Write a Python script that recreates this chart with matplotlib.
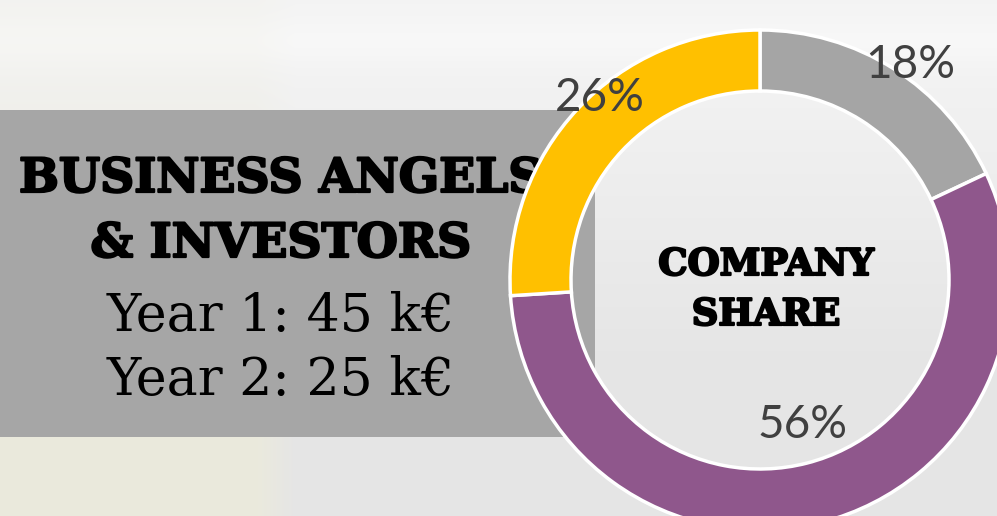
import numpy as np
import matplotlib
matplotlib.use("Agg")
import matplotlib.pyplot as plt
from matplotlib.patches import FancyBboxPatch
import matplotlib.patheffects as pe

# ---- data ----
slice_labels = ["18%", "56%", "26%"]
slice_values = [18, 56, 26]
slice_colors = ["#a5a5a5", "#8f578c", "#ffc000"]
box_title = ["BUSINESS ANGELS", "& INVESTORS"]
box_lines = ["Year 1: 45 k€", "Year 2: 25 k€"]
center_title = ["COMPANY", "SHARE"]

W, H = 997, 516
fig = plt.figure(figsize=(W / 100, H / 100), dpi=100)
ax = fig.add_axes([0, 0, 1, 1])

# ---- blurred photo-like background ----
yy, xx = np.mgrid[0:H, 0:W]
t = yy / H
base = 0.955 - 0.055 * np.clip((t - 0.1) / 0.6, 0, 1)
img = np.dstack([base, base, base])
band = np.exp(-((yy - 40) / 25.0) ** 2) * 0.015
img += band[..., None]
mask = np.clip((295 - xx) / 40.0, 0, 1) * np.clip((yy - 10) / 300.0, 0.2, 1)
tint = np.array([0.93, 0.925, 0.85])
img = img * (1 - 0.7 * mask[..., None]) + tint * 0.7 * mask[..., None]
img = np.clip(img, 0, 1)
ax.imshow(img, extent=[0, W, 0, H], origin="upper", zorder=0, aspect="auto")

# ---- grey rounded box ----
box = FancyBboxPatch((-40, H - 437), 635, 327,
                     boxstyle="round,pad=0,rounding_size=18",
                     fc="#a6a6a6", ec="none", zorder=1)
ax.add_patch(box)

heavy = [pe.withStroke(linewidth=1.6, foreground="black")]
tx = 281
ax.text(tx, H - 192, box_title[0], fontsize=34, fontweight="bold",
        family="DejaVu Serif", ha="center", va="baseline", zorder=2,
        path_effects=heavy)
ax.text(tx, H - 257, box_title[1], fontsize=34, fontweight="bold",
        family="DejaVu Serif", ha="center", va="baseline", zorder=2,
        path_effects=heavy)
ax.text(tx, H - 331, box_lines[0], fontsize=37.5,
        family="DejaVu Serif", ha="center", va="baseline", zorder=2)
ax.text(tx, H - 395, box_lines[1], fontsize=37.5,
        family="DejaVu Serif", ha="center", va="baseline", zorder=2)

# ---- donut ----
cx, cy, R = 760, H - 280, 250
wedges, _ = ax.pie(slice_values, colors=slice_colors, startangle=90,
                   counterclock=False, center=(cx, cy), radius=R,
                   wedgeprops=dict(width=61, edgecolor="white", linewidth=2.5),
                   normalize=True)
for w in wedges:
    w.set_zorder(3)

dist = [1.05, 0.605, 0.97]
nudge = [-2.5, 2.0, -5.5]
for w, lab, d, n in zip(wedges, slice_labels, dist, nudge):
    ang = np.deg2rad((w.theta1 + w.theta2) / 2 + n)
    ax.text(cx + d * R * np.cos(ang), cy + d * R * np.sin(ang), lab,
            fontsize=33, family="Lato", color="#404040",
            ha="center", va="center", zorder=4)

ax.text(766, H - 275, center_title[0], fontsize=26.5, fontweight="bold",
        family="DejaVu Serif", ha="center", va="baseline", zorder=4,
        path_effects=heavy)
ax.text(766, H - 325, center_title[1], fontsize=26.5, fontweight="bold",
        family="DejaVu Serif", ha="center", va="baseline", zorder=4,
        path_effects=heavy)

ax.set_xlim(0, W)
ax.set_ylim(0, H)
ax.set_aspect("auto")
ax.axis("off")
fig.savefig("out.png", dpi=100)
